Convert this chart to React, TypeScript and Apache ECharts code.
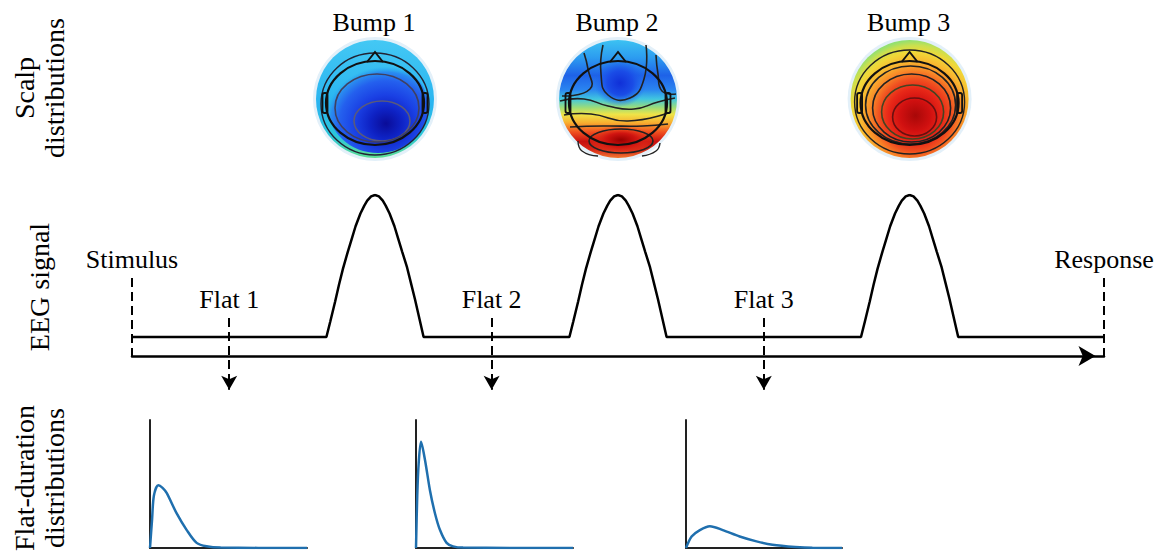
import React, { useEffect, useRef } from "react";
import * as echarts from "echarts";

// ---------- data ----------
const STIMULUS_TIME = 0;
const RESPONSE_TIME = 1000;
const BUMP_NAMES = ["Bump 1", "Bump 2", "Bump 3"];
const BUMP_START_TIMES = [200, 450, 750];
// bump waveform (offset from bump start, relative amplitude)
const BUMP_PROFILE_OFFSETS = [0, 4, 9, 13, 17, 22, 26, 30, 35, 39, 42, 46, 50, 54, 58, 61, 65, 70, 74, 78, 83, 87, 91, 96, 100];
const BUMP_PROFILE_VALUES = [0, 0.11, 0.25, 0.37, 0.48, 0.6, 0.69, 0.78, 0.87, 0.925, 0.96, 0.99, 1, 0.99, 0.96, 0.925, 0.87, 0.78, 0.69, 0.6, 0.49, 0.38, 0.27, 0.12, 0];
const FLAT_NAMES = ["Flat 1", "Flat 2", "Flat 3"];
const FLAT_MARK_TIMES = [100, 370, 650];

// flat-duration distributions (x: % of panel width, y: relative density)
const DIST1_X = [0, 1.3, 2.5, 5.3, 8, 10.6, 17, 23.4, 29.7, 36, 45, 100];
const DIST1_Y = [0, 0.22, 0.41, 0.49, 0.47, 0.43, 0.27, 0.14, 0.04, 0.013, 0.003, 0];
const DIST2_X = [0, 0.8, 1.7, 3.2, 5.7, 8.9, 12.1, 15.3, 19.5, 23.6, 30, 100];
const DIST2_Y = [0, 0.41, 0.66, 0.83, 0.69, 0.45, 0.27, 0.14, 0.04, 0.013, 0.003, 0];
const DIST3_X = [0, 3.6, 8.9, 15.3, 23.6, 34.4, 45.2, 55.4, 70, 81, 100];
const DIST3_Y = [0, 0.09, 0.14, 0.17, 0.14, 0.09, 0.052, 0.026, 0.008, 0.001, 0];

// ---------- style / layout ----------
const FONT = "Liberation Serif";
const BLUE = "#1f6fae";
const LABEL_TOP_Y = 0.415; // stimulus/response dashed line top (signal units)
const AXIS_Y = -0.134; // time arrow position (signal units)
const FLAT_ARROW_TOP = 0.134;
const FLAT_ARROW_END = -0.37;

function buildSignal(): [number, number][] {
  const pts: [number, number][] = [[STIMULUS_TIME, 0]];
  BUMP_START_TIMES.forEach((s) => {
    BUMP_PROFILE_OFFSETS.forEach((o, i) => pts.push([s + o, BUMP_PROFILE_VALUES[i]]));
  });
  pts.push([RESPONSE_TIME, 0]);
  return pts;
}

const zip = (xs: number[], ys: number[]) => xs.map((x, i) => [x, ys[i]]);

function lg(stops: [number, string][]) {
  return new echarts.graphic.LinearGradient(0, 0, 0, 1, stops.map(([offset, color]) => ({ offset, color })));
}
function rg(x: number, y: number, r: number, stops: [number, string][]) {
  return new echarts.graphic.RadialGradient(x, y, r, stops.map(([offset, color]) => ({ offset, color })));
}

const LINE = (points: number[][], color = "#222", w = 1.5, smooth = 0.5) => ({
  type: "polyline",
  silent: true,
  shape: { points, smooth },
  style: { fill: "none", stroke: color, lineWidth: w },
});
const ELL = (cx: number, cy: number, rx: number, ry: number, color = "#222", w = 1.5) => ({
  type: "ellipse",
  silent: true,
  shape: { cx, cy, rx, ry },
  style: { fill: "none", stroke: color, lineWidth: w },
});

function scalp(kind: number, cx: number, cy: number) {
  const R = 59;
  const els: any[] = [];
  els.push({ type: "circle", silent: true, shape: { cx, cy, r: R + 3 }, style: { fill: "#e3f0f9" } });
  if (kind === 0) {
    els.push({
      type: "circle", silent: true, shape: { cx, cy, r: R },
      style: { fill: lg([[0, "#44c8f4"], [0.55, "#28b4f0"], [0.82, "#2cc8d8"], [1, "#5ee094"]]) },
    });
    els.push({
      type: "ellipse", silent: true, shape: { cx: cx + 3, cy: cy + 8, rx: 50, ry: 46 },
      style: { fill: rg(0.58, 0.68, 0.62, [[0, "#0a0c98"], [0.25, "#0e22c4"], [0.5, "#1a40e4"], [0.75, "#2460ee"], [0.9, "#2a8cf0"], [1, "rgba(40,170,240,0)"]]) },
    });
    els.push(ELL(cx + 7, cy + 22, 28, 20, "#5a5a7a", 1.6));
    els.push(ELL(cx + 2, cy + 9, 42, 34, "#404060", 1.6));
    els.push(ELL(cx, cy + 5, 54, 51, "#223", 1.4));
  } else if (kind === 1) {
    els.push({
      type: "circle", silent: true, shape: { cx, cy, r: R },
      style: {
        fill: lg([
          [0, "#3cc2f2"], [0.15, "#2c9cf0"], [0.3, "#1e62e8"], [0.42, "#2a84f0"], [0.5, "#40c6e0"],
          [0.57, "#98dc7c"], [0.63, "#eee448"], [0.7, "#f8b030"], [0.78, "#f05020"], [0.86, "#c81010"],
          [0.93, "#d82818"], [1, "#f07830"],
        ]),
      },
    });
    els.push({
      type: "ellipse", silent: true, shape: { cx: cx + 2, cy: cy - 16, rx: 26, ry: 24 },
      style: { fill: rg(0.5, 0.5, 0.5, [[0, "#1030d8"], [0.5, "#1a4ce6"], [1, "rgba(30,100,240,0)"]]) },
    });
    els.push({
      type: "ellipse", silent: true, shape: { cx: cx + 3, cy: cy + 41, rx: 34, ry: 15 },
      style: { fill: rg(0.5, 0.5, 0.5, [[0, "#980000"], [0.45, "#d01410"], [1, "rgba(240,70,30,0)"]]) },
    });
    els.push(LINE([[cx - 15, cy - 54], [cx - 17, cy - 25], [cx - 10, cy - 4], [cx + 12, cy - 1], [cx + 26, cy - 20], [cx + 28, cy - 54]], "#222", 1.6));
    els.push(LINE([[cx - 34, cy - 46], [cx - 30, cy - 30], [cx - 28, cy - 10], [cx - 56, cy - 3]], "#222", 1.6));
    els.push(LINE([[cx + 38, cy - 44], [cx + 40, cy - 25], [cx + 44, cy - 8], [cx + 58, cy - 5]], "#222", 1.6));
    els.push(LINE([[cx - 58, cy + 2], [cx - 34, cy], [cx - 10, cy + 7], [cx + 16, cy + 10], [cx + 40, cy + 3], [cx + 57, cy - 1]], "#222", 1.6));
    els.push(LINE([[cx - 54, cy + 16], [cx - 27, cy + 15], [cx + 10, cy + 22], [cx + 53, cy + 13]], "#222", 1.6));
    els.push(LINE([[cx - 48, cy + 28], [cx - 15, cy + 27], [cx + 25, cy + 27], [cx + 50, cy + 25]], "#222", 1.6));
    els.push(ELL(cx + 3, cy + 42, 32, 12, "#222", 1.6));
    els.push(LINE([[cx - 40, cy + 42], [cx - 36, cy + 52], [cx - 20, cy + 57]], "#222", 1.4));
    els.push(LINE([[cx + 42, cy + 44], [cx + 38, cy + 52], [cx + 24, cy + 57]], "#222", 1.4));
  } else {
    els.push({
      type: "circle", silent: true, shape: { cx, cy, r: R },
      style: {
        fill: rg(0.55, 0.64, 0.64, [
          [0, "#a80808"], [0.2, "#d01010"], [0.36, "#e82818"], [0.48, "#f05020"], [0.6, "#f88828"],
          [0.72, "#f8b830"], [0.84, "#f0d838"], [0.93, "#c8e050"], [1, "#92e070"],
        ]),
      },
    });
    els.push(ELL(cx + 5, cy + 18, 22, 19, "#6a1010", 1.6));
    els.push(ELL(cx + 3, cy + 13, 31, 27, "#442", 1.6));
    els.push(ELL(cx + 2, cy + 9, 39, 34, "#222", 1.6));
    els.push(ELL(cx + 1, cy + 6, 45, 39, "#222", 1.6));
    els.push(ELL(cx, cy + 3, 55, 52, "#222", 1.4));
  }
  // head outline, nose, ears
  const hy = cy + 4;
  const hrx = 49;
  const hry = 42;
  els.push(ELL(cx, hy, hrx, hry, "#111", 2.2));
  els.push({
    type: "polyline", silent: true,
    shape: { points: [[cx - 8, hy - hry + 1], [cx, hy - hry - 9], [cx + 8, hy - hry + 1]] },
    style: { fill: "none", stroke: "#111", lineWidth: 2 },
  });
  [-1, 1].forEach((sgn) => {
    els.push({
      type: "rect", silent: true,
      shape: { x: cx + sgn * (hrx + 1) - 2.5, y: hy - 10, width: 5, height: 20, r: 2 },
      style: { fill: "none", stroke: "#111", lineWidth: 1.8 },
    });
  });
  return els;
}

function buildOption() {
  const axisHidden = { axisTick: { show: false }, axisLabel: { show: false }, splitLine: { show: false } };
  const smallGrids = [
    { left: 150, top: 420, width: 157, height: 128 },
    { left: 416, top: 420, width: 157, height: 128 },
    { left: 686, top: 420, width: 156, height: 128 },
  ];
  const dists = [zip(DIST1_X, DIST1_Y), zip(DIST2_X, DIST2_Y), zip(DIST3_X, DIST3_Y)];

  const markData: any[] = [
    [
      { name: "Stimulus", coord: [STIMULUS_TIME, LABEL_TOP_Y], symbol: "none" },
      { coord: [STIMULUS_TIME, AXIS_Y], symbol: "none" },
    ],
    [
      { name: "Response", coord: [RESPONSE_TIME, LABEL_TOP_Y], symbol: "none" },
      { coord: [RESPONSE_TIME, AXIS_Y], symbol: "none" },
    ],
    ...FLAT_MARK_TIMES.map((t, i) => [
      { name: FLAT_NAMES[i], coord: [t, FLAT_ARROW_TOP], symbol: "none" },
      { coord: [t, FLAT_ARROW_END], symbol: "arrow", symbolSize: [12, 14] },
    ]),
  ];

  return {
    animation: false,
    backgroundColor: "#ffffff",
    textStyle: { fontFamily: FONT },
    grid: [{ left: 132, right: 58, top: 195, bottom: 152 }, ...smallGrids],
    xAxis: [
      {
        gridIndex: 0, type: "value", min: STIMULUS_TIME, max: RESPONSE_TIME, offset: -45,
        axisLine: {
          show: true, onZero: false, symbol: ["none", "arrow"], symbolSize: [15, 17], symbolOffset: [0, -8.5],
          lineStyle: { color: "#000", width: 2.5 },
        },
        ...axisHidden,
      },
      ...smallGrids.map((_, i) => ({
        gridIndex: i + 1, type: "value", min: 0, max: 100,
        axisLine: { show: true, onZero: false, lineStyle: { color: "#222", width: 2 } },
        ...axisHidden,
      })),
    ],
    yAxis: [
      { gridIndex: 0, type: "value", min: -0.45, max: 1, show: false },
      ...smallGrids.map((_, i) => ({
        gridIndex: i + 1, type: "value", min: 0, max: 1,
        axisLine: { show: true, onZero: false, lineStyle: { color: "#222", width: 2 } },
        ...axisHidden,
      })),
    ],
    series: [
      {
        name: "EEG signal",
        type: "line",
        xAxisIndex: 0,
        yAxisIndex: 0,
        data: buildSignal(),
        showSymbol: false,
        silent: true,
        lineStyle: { color: "#000", width: 2.5 },
        markLine: {
          silent: true,
          symbol: ["none", "none"],
          lineStyle: { color: "#000", width: 2, type: [9, 5] },
          label: {
            show: true, position: "start", formatter: "{b}", fontFamily: FONT, fontSize: 26,
            color: "#000", distance: 6, align: "center", verticalAlign: "bottom",
          },
          emphasis: { disabled: true },
          data: markData,
        },
      },
      ...dists.map((d, i) => ({
        name: "Flat " + (i + 1) + " duration",
        type: "line",
        xAxisIndex: i + 1,
        yAxisIndex: i + 1,
        data: d,
        showSymbol: false,
        silent: true,
        smooth: 0.3,
        lineStyle: { color: BLUE, width: 2.5 },
      })),
    ],
  };
}

function buildGraphics(centers: number[]) {
  const els: any[] = [];
  const vText = (x: number, y: number, text: string) => ({
    type: "text", x, y, rotation: Math.PI / 2, silent: true,
    style: { text, fontFamily: FONT, fontSize: 28, fill: "#000", align: "center", verticalAlign: "middle", lineHeight: 30 },
  });
  els.push(vText(39, 88, "Scalp\ndistributions"));
  els.push(vText(39, 287, "EEG signal"));
  els.push(vText(39, 478, "Flat-duration\ndistributions"));
  centers.forEach((cx, i) => {
    els.push(...scalp(i, cx, 99));
    els.push({
      type: "text", x: cx - 1, y: 22, silent: true,
      style: { text: BUMP_NAMES[i], fontFamily: FONT, fontSize: 26, fill: "#000", align: "center", verticalAlign: "middle" },
    });
  });
  return els;
}

export default function App() {
  const ref = useRef<HTMLDivElement>(null);
  useEffect(() => {
    if (!ref.current) return;
    const chart = echarts.init(ref.current, null, { renderer: "svg" });
    chart.setOption(buildOption() as any);
    const peakIdx = BUMP_PROFILE_VALUES.indexOf(Math.max(...BUMP_PROFILE_VALUES));
    const centers = BUMP_START_TIMES.map(
      (s) => chart.convertToPixel({ xAxisIndex: 0 }, s + BUMP_PROFILE_OFFSETS[peakIdx]) as number
    );
    chart.setOption({ graphic: { elements: buildGraphics(centers) } } as any);
    return () => chart.dispose();
  }, []);
  return (
    <div
      ref={ref}
      style={{ position: "fixed", left: 0, top: 0, width: 1162, height: 553, background: "#fff" }}
    />
  );
}
